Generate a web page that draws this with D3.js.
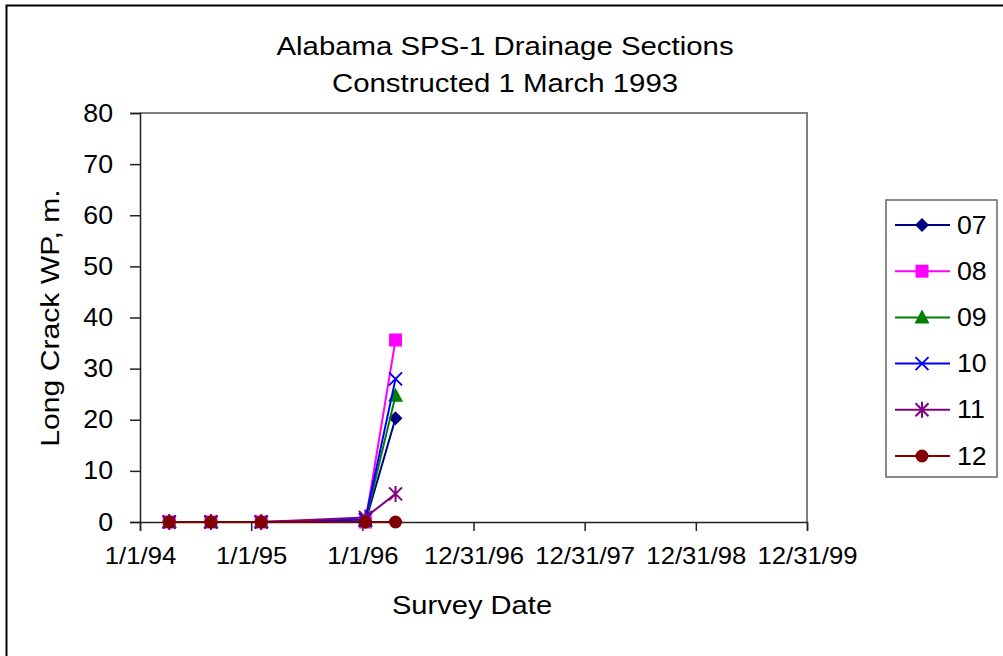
<!DOCTYPE html>
<html>
<head>
<meta charset="utf-8">
<script src="https://cdn.jsdelivr.net/npm/d3@7/dist/d3.min.js"></script>
<style>
  html, body { margin: 0; padding: 0; background: #fff; }
  svg { display: block; font-family: "Liberation Sans", Arial, sans-serif; }
</style>
</head>
<body>
<svg id="chart" width="1003" height="656"></svg>
<script>
// Survey dates (shared by all sections)
const surveyDates = ["1994-04-07", "1994-08-22", "1995-02-03", "1996-01-11", "1996-04-19"];

// Long crack in wheel path (m) per section
const sectionNames = ["07", "08", "09", "10", "11", "12"];
const s07 = [0, 0, 0, 0, 20.3];
const s08 = [0, 0, 0, 0, 35.6];
const s09 = [0, 0, 0, 0.2, 24.7];
const s10 = [0, 0, 0, 0.5, 28.0];
const s11 = [0, 0, 0, 0.9, 5.5];
const s12 = [0, 0, 0, 0, 0];

const seriesColors = ["#000080", "#FF00FF", "#008000", "#0000FF", "#800080", "#800000"];
const seriesMarkers = ["diamond", "square", "triangle", "x", "star", "circle"];

// Axis ticks
const xTickDates = ["1994-01-01", "1995-01-01", "1996-01-01", "1996-12-31", "1997-12-31", "1998-12-31", "1999-12-31"];
const yTicks = [0, 10, 20, 30, 40, 50, 60, 70, 80];

const parse = d3.timeParse("%Y-%m-%d");
const fmt = d => `${d.getMonth() + 1}/${d.getDate()}/${String(d.getFullYear()).slice(2)}`;

const seriesValues = [s07, s08, s09, s10, s11, s12];
const series = sectionNames.map((name, i) => ({
  name,
  color: seriesColors[i],
  marker: seriesMarkers[i],
  points: surveyDates.map((d, j) => ({ date: parse(d), value: seriesValues[i][j] }))
}));

const svg = d3.select("#chart");
const plot = { left: 140, right: 807, top: 113, bottom: 522 };

// Wide text look: horizontal stretch factors
const titleStretch = 1.13;
const labelStretch = 1.07;

const x = d3.scaleTime()
  .domain([parse(xTickDates[0]), parse(xTickDates[xTickDates.length - 1])])
  .range([plot.left, plot.right]);
const y = d3.scaleLinear().domain([0, 80]).range([plot.bottom, plot.top]);

// Outer chart frame
svg.append("rect")
  .attr("x", 6.5).attr("y", 5.5)
  .attr("width", 1010).attr("height", 670)
  .attr("fill", "none").attr("stroke", "#000").attr("stroke-width", 2);

// Stretched text helper
function wideText(px, py, str, size, sx, rotate = 0, anchor = "middle") {
  return svg.append("text")
    .attr("transform", `translate(${px},${py}) rotate(${rotate}) scale(${sx},1)`)
    .attr("text-anchor", anchor)
    .attr("font-size", size)
    .attr("fill", "#000")
    .text(str);
}

// Title
wideText(505, 55, "Alabama SPS-1 Drainage Sections", 26, titleStretch);
wideText(505, 92, "Constructed 1 March 1993", 26, titleStretch);

// Plot area border (top/right)
svg.append("path")
  .attr("d", `M${plot.left},${plot.top}H${plot.right}V${plot.bottom}`)
  .attr("fill", "none").attr("stroke", "#808080").attr("stroke-width", 2);

// Y axis
const yAxis = svg.append("g")
  .attr("transform", `translate(${plot.left},0)`)
  .call(d3.axisLeft(y).tickValues(yTicks).tickSize(10).tickPadding(15).tickFormat(d3.format("d")));
yAxis.select(".domain").attr("stroke", "#222").attr("stroke-width", 1.5);
yAxis.selectAll(".tick line").attr("stroke", "#222").attr("stroke-width", 1.5);
yAxis.selectAll(".tick text")
  .attr("font-size", 25).attr("fill", "#000")
  .attr("font-family", "Liberation Sans, Arial, sans-serif")
  .attr("transform", `translate(-27,0) scale(${labelStretch},1)`)
  .attr("x", 0);

// X axis
const xAxis = svg.append("g")
  .attr("transform", `translate(0,${plot.bottom})`)
  .call(d3.axisBottom(x).tickValues(xTickDates.map(parse)).tickSize(9).tickPadding(16).tickFormat(fmt));
xAxis.select(".domain").attr("stroke", "#222").attr("stroke-width", 1.5);
xAxis.selectAll(".tick line").attr("stroke", "#222").attr("stroke-width", 1.5);
xAxis.selectAll(".tick text")
  .attr("font-size", 24).attr("fill", "#000")
  .attr("font-family", "Liberation Sans, Arial, sans-serif")
  .attr("transform", `scale(${labelStretch},1)`);

// Axis titles
wideText(59, 318, "Long Crack WP, m.", 26, 1.16, -90);
wideText(472, 614, "Survey Date", 26, 1.12);

// Marker drawing
function drawMarker(g, type, color) {
  switch (type) {
    case "diamond":
      g.append("path").attr("d", "M0,-7L7,0L0,7L-7,0Z").attr("fill", color);
      break;
    case "square":
      g.append("rect").attr("x", -6.5).attr("y", -6.5).attr("width", 13).attr("height", 13).attr("fill", color);
      break;
    case "triangle":
      g.append("path").attr("d", "M0,-8L7.5,6L-7.5,6Z").attr("fill", color);
      break;
    case "x":
      g.append("path").attr("d", "M-6.5,-6.5L6.5,6.5M-6.5,6.5L6.5,-6.5")
        .attr("stroke", color).attr("stroke-width", 2).attr("fill", "none");
      break;
    case "star":
      g.append("path").attr("d", "M-6.5,-6.5L6.5,6.5M-6.5,6.5L6.5,-6.5M0,-8V8")
        .attr("stroke", color).attr("stroke-width", 2).attr("fill", "none");
      break;
    case "circle":
      g.append("circle").attr("r", 6.5).attr("fill", color);
      break;
  }
}

// Series lines and markers
const line = d3.line().x(d => x(d.date)).y(d => y(d.value));
series.forEach(s => {
  const g = svg.append("g");
  g.append("path")
    .datum(s.points)
    .attr("d", line)
    .attr("fill", "none")
    .attr("stroke", s.color)
    .attr("stroke-width", 2);
  s.points.forEach(p => {
    drawMarker(g.append("g").attr("transform", `translate(${x(p.date)},${y(p.value)})`), s.marker, s.color);
  });
});

// Legend
const legend = svg.append("g");
legend.append("rect")
  .attr("x", 886).attr("y", 200).attr("width", 111).attr("height", 277)
  .attr("fill", "#fff").attr("stroke", "#666").attr("stroke-width", 1.5);
series.forEach((s, i) => {
  const cy = 225 + i * 46.2;
  const row = legend.append("g");
  row.append("line")
    .attr("x1", 895).attr("x2", 950).attr("y1", cy).attr("y2", cy)
    .attr("stroke", s.color).attr("stroke-width", 2);
  drawMarker(row.append("g").attr("transform", `translate(922,${cy})`), s.marker, s.color);
  row.append("text")
    .attr("transform", `translate(957,${cy + 8.5}) scale(${labelStretch},1)`)
    .attr("font-size", 25)
    .text(s.name);
});
</script>
</body>
</html>
